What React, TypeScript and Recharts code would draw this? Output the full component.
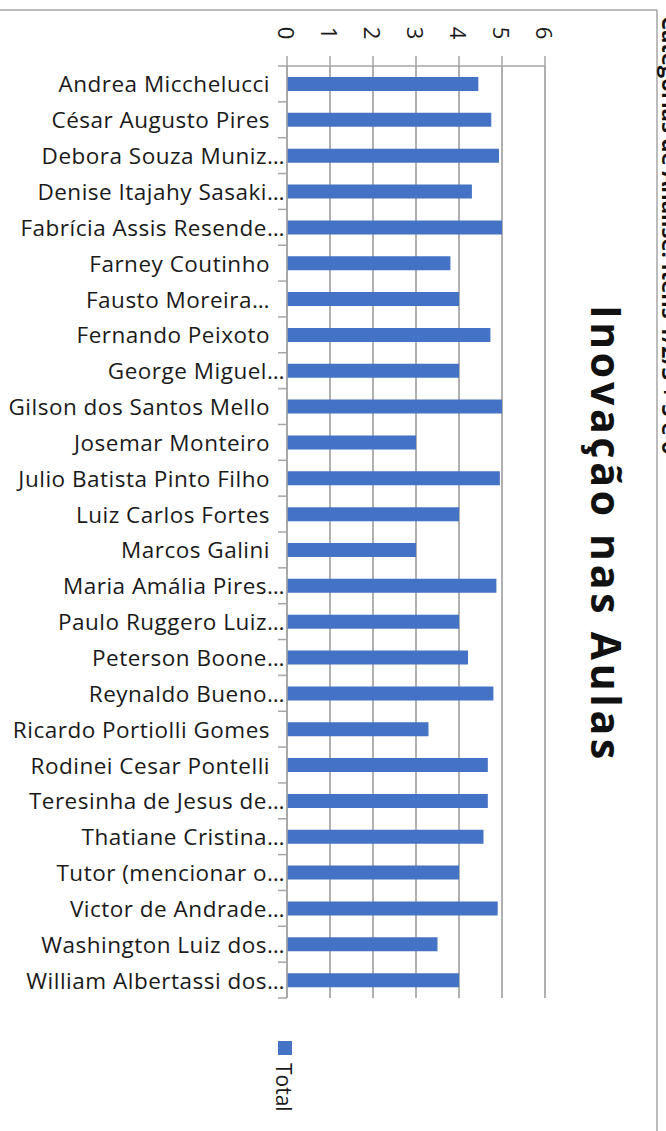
import React from 'react';
import { BarChart, Bar, XAxis, YAxis, CartesianGrid } from 'recharts';

const categories: string[] = [
  'Andrea Micchelucci ',
  'César Augusto Pires ',
  'Debora Souza Muniz…',
  'Denise Itajahy Sasaki…',
  'Fabrícia Assis Resende…',
  'Farney Coutinho ',
  'Fausto Moreira… ',
  'Fernando Peixoto ',
  'George Miguel…',
  'Gilson dos Santos Mello ',
  'Josemar Monteiro ',
  'Julio Batista Pinto Filho ',
  'Luiz Carlos Fortes ',
  'Marcos Galini ',
  'Maria Amália Pires…',
  'Paulo Ruggero Luiz…',
  'Peterson Boone…',
  'Reynaldo Bueno…',
  'Ricardo Portiolli Gomes ',
  'Rodinei Cesar Pontelli ',
  'Teresinha de Jesus de…',
  'Thatiane Cristina…',
  'Tutor (mencionar o…',
  'Victor de Andrade…',
  'Washington Luiz dos…',
  'William Albertassi dos…',
];

const totals: number[] = [
  4.45, 4.75, 4.93, 4.3, 5.0, 3.8, 4.0, 4.73, 4.0, 5.0, 3.0, 4.95, 4.0,
  3.0, 4.87, 4.0, 4.21, 4.8, 3.29, 4.67, 4.67, 4.57, 4.0, 4.9, 3.5, 4.0,
];

const valueTicks: number[] = [0, 1, 2, 3, 4, 5, 6];
const seriesName = 'Total';
const chartTitle = 'Inovação nas Aulas';
const subtitle = 'Categorias de Análise: Itens 1/2/3 + 5 e 6';

const data = categories.map((name, i) => ({ name, Total: totals[i] }));

const W = 666;
const H = 1131;
const PLOT_TOP = 66;
const PLOT_BOTTOM = 998;
const BAND = (PLOT_BOTTOM - PLOT_TOP) / categories.length;
const GRAY = '#a6a6a6';
const GRID = '#b0b0b0';
const BLUE = '#4472C4';
const FONT = '"Open Sans", Lato, sans-serif';

function CategoryTick(props: any) {
  const { x, y, payload, index } = props;
  const label: string = String(payload.value);
  const trimmed = label.trimEnd();
  const offset = trimmed !== label ? 17 : 2;
  return (
    <g>
      <line x1={x - 9} x2={x} y1={y - BAND / 2} y2={y - BAND / 2} stroke={GRAY} strokeWidth={1.5} />
      {index === categories.length - 1 && (
        <line x1={x - 9} x2={x} y1={y + BAND / 2} y2={y + BAND / 2} stroke={GRAY} strokeWidth={1.5} />
      )}
      <text
        x={x - offset}
        y={y}
        textAnchor="end"
        dominantBaseline="central"
        fontFamily={FONT}
        fontSize={22.5}
        letterSpacing={0.5}
        fill="#1a1a1a"
      >
        {trimmed}
      </text>
    </g>
  );
}

function ValueTick(props: any) {
  const { x, y, payload } = props;
  const cy = y - 23;
  return (
    <text
      x={x}
      y={cy}
      transform={`rotate(90, ${x}, ${cy})`}
      textAnchor="middle"
      dominantBaseline="central"
      fontFamily={FONT}
      fontSize={22}
      fill="#1a1a1a"
    >
      {payload.value}
    </text>
  );
}

export default function App() {
  return (
    <div style={{ position: 'absolute', left: 0, top: 0, width: W, height: H, background: '#fff' }}>
      <BarChart
        width={W}
        height={H}
        data={data}
        layout="vertical"
        margin={{ top: 0, left: 0, right: 121, bottom: 133 }}
      >
        <CartesianGrid horizontal={false} stroke={GRID} strokeWidth={2} />
        <XAxis
          type="number"
          orientation="top"
          domain={[0, 6]}
          ticks={valueTicks}
          interval={0}
          height={66}
          tickSize={10}
          tickMargin={0}
          axisLine={{ stroke: GRAY, strokeWidth: 1.5 }}
          tickLine={{ stroke: GRAY, strokeWidth: 1.5 }}
          tick={<ValueTick />}
        />
        <YAxis
          type="category"
          dataKey="name"
          width={287}
          interval={0}
          tickSize={0}
          tickMargin={0}
          tickLine={false}
          axisLine={{ stroke: GRAY, strokeWidth: 1.5 }}
          tick={<CategoryTick />}
        />
        <Bar dataKey="Total" name={seriesName} fill={BLUE} barSize={14} isAnimationActive={false} />
      </BarChart>
      <svg
        width={W}
        height={H}
        style={{ position: 'absolute', left: 0, top: 0, pointerEvents: 'none' }}
      >
        <line x1={0} x2={657} y1={10} y2={10} stroke={GRAY} strokeWidth={1.5} />
        <line x1={657} x2={657} y1={10} y2={H} stroke={GRAY} strokeWidth={1.5} />
        <text
          x={591}
          y={534}
          transform="rotate(90, 591, 534)"
          textAnchor="middle"
          fontFamily={'"Open Sans", Lato, sans-serif'}
          fontWeight={700}
          fontSize={41}
          letterSpacing={3.7}
          fill="#111"
        >
          {chartTitle}
        </text>
        <text
          x={662}
          y={16}
          transform="rotate(90, 662, 16)"
          textAnchor="start"
          fontFamily={FONT}
          fontWeight={700}
          fontSize={22}
          fill="#111"
        >
          {subtitle}
        </text>
        <rect x={278} y={1041} width={14} height={14} fill={BLUE} />
        <text
          x={276}
          y={1063}
          transform="rotate(90, 276, 1063)"
          textAnchor="start"
          fontFamily={FONT}
          fontSize={21}
          fill="#1a1a1a"
        >
          {seriesName}
        </text>
      </svg>
    </div>
  );
}
